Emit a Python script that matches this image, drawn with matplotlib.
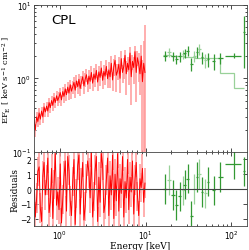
import matplotlib
matplotlib.use("Agg")
import matplotlib.pyplot as plt
import numpy as np

# ---- soft band (red) ----
xrt_e = [0.50, 0.517, 0.535, 0.553, 0.572, 0.591, 0.611, 0.632, 0.653, 0.676,
         0.699, 0.722, 0.747, 0.772, 0.799, 0.826, 0.854, 0.883, 0.913, 0.944,
         0.976, 1.009, 1.043, 1.079, 1.116, 1.154, 1.193, 1.233, 1.275, 1.319,
         1.364, 1.410, 1.458, 1.507, 1.559, 1.612, 1.666, 1.723, 1.782, 1.842,
         1.905, 1.970, 2.037, 2.106, 2.178, 2.252, 2.328, 2.407, 2.489, 2.574,
         2.661, 2.752, 2.845, 2.942, 3.042, 3.146, 3.253, 3.363, 3.478, 3.596,
         3.718, 3.845, 3.975, 4.111, 4.250, 4.395, 4.544, 4.699, 4.859, 5.024,
         5.195, 5.371, 5.554, 5.743, 5.938, 6.140, 6.349, 6.565, 6.788, 7.019,
         7.257, 7.504, 7.759, 8.023, 8.296, 8.578, 8.870, 9.171, 9.483, 9.806]
xrt_flux = [0.27, 0.20, 0.30, 0.26, 0.34, 0.28, 0.36, 0.30, 0.41, 0.35,
            0.42, 0.36, 0.47, 0.40, 0.50, 0.43, 0.55, 0.47, 0.58, 0.50,
            0.56, 0.64, 0.51, 0.66, 0.57, 0.72, 0.60, 0.76, 0.63, 0.82,
            0.67, 0.77, 0.88, 0.69, 0.92, 0.77, 0.97, 0.73, 0.89, 1.05,
            0.79, 0.97, 1.12, 0.83, 1.07, 0.91, 1.20, 0.86, 1.14, 0.97,
            1.28, 0.89, 1.22, 1.03, 1.38, 0.94, 1.24, 1.07, 1.45, 0.99,
            1.30, 1.05, 1.60, 0.95, 1.45, 1.75, 1.10, 1.25, 1.55, 1.00,
            1.85, 1.20, 1.45, 2.05, 1.15, 1.60, 1.30, 2.20, 1.05, 1.70,
            1.40, 2.30, 1.20, 1.90, 1.55, 1.15, 2.00, 0.90, 1.60, 1.20]
xrt_err = [0.04, 0.04, 0.05, 0.04, 0.05, 0.05, 0.05, 0.05, 0.06, 0.05,
           0.06, 0.06, 0.07, 0.06, 0.08, 0.07, 0.08, 0.07, 0.09, 0.08,
           0.09, 0.10, 0.09, 0.11, 0.10, 0.12, 0.11, 0.13, 0.12, 0.14,
           0.14, 0.15, 0.17, 0.15, 0.18, 0.16, 0.19, 0.16, 0.18, 0.21,
           0.17, 0.20, 0.23, 0.18, 0.22, 0.20, 0.25, 0.19, 0.24, 0.21,
           0.28, 0.21, 0.27, 0.24, 0.31, 0.23, 0.29, 0.26, 0.34, 0.25,
           0.34, 0.31, 0.40, 0.27, 0.38, 0.34, 0.45, 0.30, 0.42, 0.36,
           0.50, 0.33, 0.46, 0.40, 0.56, 0.37, 0.50, 0.43, 0.62, 0.40,
           0.56, 0.48, 0.72, 0.45, 0.65, 0.56, 0.85, 0.88, 1.60, 4.00]
xrt_res = [0.8, -1.9, -0.6, 1.2, 1.5, -1.3, -2.2, 0.9, 1.8, -0.4,
           0.6, 2.1, -1.6, -0.9, 1.4, -2.0, 0.3, 2.4, -1.1, -0.2,
           -1.4, 1.7, -2.3, -0.7, 0.9, 1.9, -1.5, 2.2, 1.3, -0.8,
           -1.8, 0.5, 2.0, -2.4, -0.3, 1.6, 2.3, -1.7, 0.4, 1.8,
           -2.1, -1.2, 0.7, 1.9, 1.1, -0.6, 2.5, -1.9, -0.5, 1.3,
           2.2, -2.2, 0.8, -0.9, 2.4, 1.6, -1.6, -1.0, 0.6, 2.1,
           -1.8, 0.9, -0.4, 2.3, -2.0, 1.0, -0.8, 2.4, -1.5, 0.7,
           -0.3, 2.2, -1.9, 0.5, -0.6, 2.0, -1.4, 0.8, -0.2, 1.9,
           -1.7, 0.6, 1.8, -0.5, -1.8, 0.7, 0.1, 1.4, -0.9, 0.4]

# ---- hard band (green) ----
bat_e = [16.8, 18.7, 20.8, 22.8, 24.9, 27.3, 28.7, 30.8, 34.2, 37.1,
         39.8, 42.4, 45.4, 49.7, 53.4, 62.1, 74.5, 106.5, 139.0]
bat_de = [0.9, 0.9, 1.0, 1.0, 1.0, 1.1, 1.1, 1.2, 1.3, 1.3,
          1.4, 1.4, 1.5, 1.6, 1.7, 2.5, 5.5, 23.0, 4.0]
bat_flux = [2.02, 2.24, 1.98, 1.82, 1.98, 2.13, 2.19, 2.36, 1.56, 2.02,
            2.24, 2.49, 1.92, 1.78, 1.82, 1.73, 1.88, 2.02, 4.18]
bat_err = [0.30, 0.30, 0.28, 0.28, 0.30, 0.32, 0.32, 0.35, 0.30, 0.35,
           0.38, 0.42, 0.38, 0.38, 0.40, 0.42, 0.30, 0.15, 2.80]
bat_res = [0.0, 0.6, -0.4, -1.1, -0.5, -0.1, 0.3, 0.7, -1.8, 0.0,
           0.8, 1.0, -0.2, -0.3, 0.5, -0.1, 0.8, 1.7, 1.2]
bat_dark = [1, 0, 1, 1, 1, 0, 1, 1, 1, 0,
            1, 0, 1, 0, 1, 1, 1, 1, 1]
model_edges = [16.0, 20.0, 24.0, 28.0, 33.0, 38.0, 44.0, 52.0, 62.0, 74.5, 106.5, 139.0]
model_vals = [2.05, 2.0, 1.98, 1.95, 1.92, 1.9, 1.88, 1.87, 1.86, 1.17, 0.73]

light_red = (1.0, 0.6, 0.6)
dark_green = (0.2, 0.6, 0.2)
light_green = (0.6, 0.82, 0.6)

fig = plt.figure(figsize=(2.49, 2.51), dpi=100)
ax0 = fig.add_axes([0.137, 0.39, 0.855, 0.588])
ax1 = fig.add_axes([0.137, 0.096, 0.855, 0.294], sharex=ax0)

e = np.array(xrt_e)
f = np.array(xrt_flux)
err = np.array(xrt_err)
lo = np.minimum(err, f * 0.999)
ax0.errorbar(e, f, yerr=[lo, err], fmt="none", ecolor=light_red, elinewidth=1.1)
ax0.plot(e, f, color="red", lw=0.7)

be = np.array(bat_e)
bf = np.array(bat_flux)
berr = np.array(bat_err)
bde = np.array(bat_de)
dark = np.array(bat_dark) == 1
blo = np.minimum(berr, bf * 0.67)
for sel, col in [(~dark, light_green), (dark, dark_green)]:
    ax0.errorbar(be[sel], bf[sel], xerr=bde[sel], yerr=[blo[sel], berr[sel]],
                 fmt="none", ecolor=col, elinewidth=0.9)
ax0.stairs(model_vals, model_edges, color=light_green, lw=0.9, baseline=None)

ax0.set_xscale("log")
ax0.set_yscale("log")
ax0.set_xlim(0.5, 152)
ax0.set_ylim(0.1, 10)
ax0.text(0.08, 0.9, "CPL", transform=ax0.transAxes, fontsize=9.5, va="center")
ax0.set_ylabel(r"$\mathregular{EF_E}$ [ keV s$\mathregular{^{-1}}$ cm$\mathregular{^{-2}}$ ]",
               family="serif", fontsize=6)
ax0.yaxis.set_label_coords(-0.1, 0.5)
plt.setp(ax0.get_xticklabels(), visible=False)

r = np.array(xrt_res)
ax1.errorbar(e, r, yerr=1.0, fmt="none", ecolor=light_red, elinewidth=1.1)
ax1.plot(e, r, color="red", lw=0.7)
br = np.array(bat_res)
for sel, col in [(~dark, light_green), (dark, dark_green)]:
    ax1.errorbar(be[sel], br[sel], xerr=bde[sel], yerr=1.0, fmt="none",
                 ecolor=col, elinewidth=0.9)
ax1.axhline(0, color="#444444", lw=0.8)
ax1.set_ylim(-2.5, 2.5)
ax1.set_yticks([-2, -1, 0, 1, 2])
ax1.set_xlabel("Energy [keV]", family="serif", fontsize=6.5)
ax1.xaxis.set_label_coords(0.5, -0.2)
ax1.set_ylabel("Residuals", family="serif", fontsize=6.5)
ax1.yaxis.set_label_coords(-0.068, 0.5)

for ax in (ax0, ax1):
    ax.tick_params(which="both", direction="in", top=True, right=True,
                   labelsize=5.5, pad=2, width=0.5)
    ax.tick_params(which="major", length=3)
    ax.tick_params(which="minor", length=1.5)
    for s in ax.spines.values():
        s.set_linewidth(0.6)
        s.set_color("#444444")

fig.savefig("out.png", dpi=100)
